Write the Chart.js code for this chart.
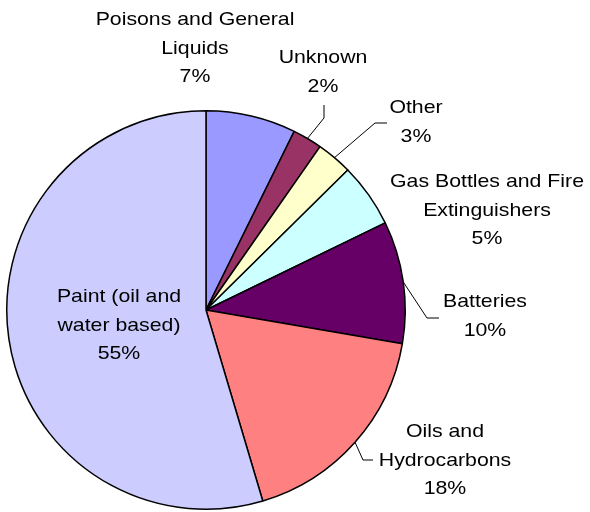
<!DOCTYPE html>
<html>
<head>
<meta charset="utf-8">
<script src="https://cdn.jsdelivr.net/npm/chart.js@4"></script>
<style>
  html, body { margin: 0; padding: 0; background: #fff; }
</style>
</head>
<body>
<canvas id="myChart" width="590" height="512"></canvas>
<script>
// slices, clockwise from 12 o'clock
const categories = [
  ["Poisons and General", "Liquids"],
  ["Unknown"],
  ["Other"],
  ["Gas Bottles and Fire", "Extinguishers"],
  ["Batteries"],
  ["Oils and", "Hydrocarbons"],
  ["Paint (oil and", "water based)"]
];
const shares = [7.3, 2.4, 2.9, 5.2, 9.9, 17.7, 54.6];
const colours = ["#9999FF", "#993366", "#FFFFCC", "#CCFFFF", "#660066", "#FF8080", "#CCCCFF"];

// where each label block sits (centre x, first line y) and its leader elbow/end
const labelLayout = [
  { x: 195, y: 20, leader: null },
  { x: 323, y: 58, leader: [[324, 118], [324, 105]] },
  { x: 416, y: 108, leader: [[375, 123], [387, 123]] },
  { x: 487, y: 182, leader: null },
  { x: 485, y: 302, leader: [[427, 318], [439, 318]] },
  { x: 445, y: 432, leader: [[363, 460], [373, 460]] },
  { x: 119, y: 297, leader: null }
];

const lineGap = 28.5;

const pieLabels = {
  id: 'pieLabels',
  afterDatasetsDraw(chart) {
    const ctx = chart.ctx;
    const meta = chart.getDatasetMeta(0);
    const total = shares.reduce((a, b) => a + b, 0);
    meta.data.forEach((arc, i) => {
      const lay = labelLayout[i];
      const p = arc.getProps(['x', 'y', 'startAngle', 'endAngle', 'outerRadius'], true);
      ctx.save();
      if (lay.leader) {
        const mid = (p.startAngle + p.endAngle) / 2;
        ctx.beginPath();
        ctx.moveTo(p.x + Math.cos(mid) * p.outerRadius, p.y + Math.sin(mid) * p.outerRadius);
        lay.leader.forEach(pt => ctx.lineTo(pt[0], pt[1]));
        ctx.strokeStyle = '#000';
        ctx.lineWidth = 1;
        ctx.stroke();
      }
      const lines = categories[i].concat([Math.round(shares[i] / total * 100) + '%']);
      ctx.fillStyle = '#000';
      ctx.font = '19px "Liberation Sans", Arial, sans-serif';
      ctx.textAlign = 'center';
      ctx.textBaseline = 'middle';
      lines.forEach((t, k) => {
        ctx.save();
        ctx.translate(lay.x, lay.y + k * lineGap);
        ctx.scale(1.12, 1);
        ctx.fillText(t, 0, 0);
        ctx.restore();
      });
      ctx.restore();
    });
  }
};

const data = {
  labels: categories.map(c => c.join(' ')),
  datasets: [{
    data: shares,
    backgroundColor: colours,
    borderColor: '#000',
    borderWidth: 1.5
  }]
};

const config = {
  type: 'pie',
  data: data,
  options: {
    responsive: false,
    animation: false,
    devicePixelRatio: 1,
    layout: { padding: { left: 6, right: 184, top: 110, bottom: 2 } },
    plugins: {
      legend: { display: false },
      tooltip: { enabled: false }
    }
  },
  plugins: [pieLabels]
};

new Chart(document.getElementById('myChart'), config);
</script>
</body>
</html>
